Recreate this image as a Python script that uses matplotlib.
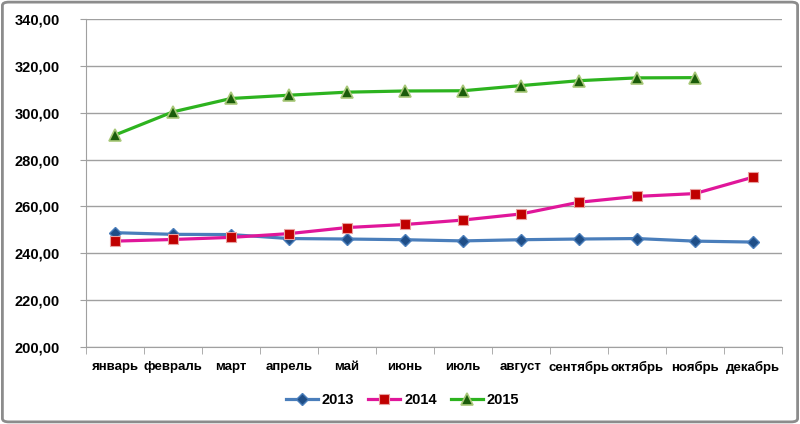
import matplotlib.pyplot as plt
from matplotlib.patches import FancyBboxPatch
from matplotlib.ticker import FuncFormatter, MultipleLocator

months = ["январь", "февраль", "март", "апрель", "май", "июнь",
          "июль", "август", "сентябрь", "октябрь", "ноябрь", "декабрь"]
y2013 = [248.8, 248.1, 248.0, 246.3, 246.1, 245.8, 245.3, 245.8, 246.1, 246.3, 245.2, 244.8]
y2014 = [245.2, 245.9, 246.8, 248.4, 251.0, 252.3, 254.2, 256.8, 261.8, 264.3, 265.5, 272.5]
y2015 = [290.5, 300.4, 306.1, 307.5, 308.8, 309.3, 309.4, 311.6, 313.7, 314.9, 315.0]

plt.rcParams['font.family'] = ['Liberation Sans', 'DejaVu Sans']

fig = plt.figure(figsize=(8, 4.24), dpi=100)
ax = fig.add_axes([0.1075, 0.1816, 0.87, 0.7734])

x13 = list(range(len(y2013)))
x14 = list(range(len(y2014)))
x15 = list(range(len(y2015)))

ax.plot(x13, y2013, color='#4A7EBB', lw=2.3, marker='D', ms=6.5,
        mfc='#1F4E87', mec='#4A7EBB', mew=1, label='2013', zorder=3)
ax.plot(x14, y2014, color='#E0169A', lw=2.3, marker='s', ms=6.5,
        mfc='#C00000', mec='#E8A0A0', mew=0.8, label='2014', zorder=4)
ax.plot(x15, y2015, color='#2DB31F', lw=2.3, marker='^', ms=8.5,
        mfc='#1A5C0A', mec='#A8C878', mew=1.2, label='2015', zorder=5)

ax.set_ylim(200, 340)
ax.set_xlim(-0.5, 11.5)
ax.yaxis.set_major_locator(MultipleLocator(20))
ax.yaxis.set_major_formatter(FuncFormatter(lambda v, p: f"{v:.2f}".replace('.', ',')))
ax.grid(axis='y', color='#A0A0A0', lw=1)
ax.set_axisbelow(True)

ax.set_xticks(range(12))
ax.set_xticklabels(months)
ax.set_xticks([i - 0.5 for i in range(13)], minor=True)
ax.tick_params(axis='x', which='major', length=0, pad=10)
ax.tick_params(axis='x', which='minor', length=5, color='#A0A0A0')
ax.tick_params(axis='y', length=4, color='#A0A0A0', pad=15)
for lab in ax.get_xticklabels() + ax.get_yticklabels():
    lab.set_fontweight('bold')
ax.tick_params(axis='x', labelsize=9.5)
ax.tick_params(axis='y', labelsize=10.5)

# top gridline is lighter in the original
ax.get_ygridlines()[-1].set_color('#D4D4D4')

for s in ['top', 'right']:
    ax.spines[s].set_visible(False)
for s in ['left', 'bottom']:
    ax.spines[s].set_color('#A0A0A0')

leg = ax.legend(loc='center', bbox_to_anchor=(402.5 / 800, 24 / 424), bbox_transform=fig.transFigure,
                ncol=3, frameon=False, prop={'weight': 'bold', 'size': 10.5},
                handlelength=2.2, columnspacing=1.0, handletextpad=0.25)

border = FancyBboxPatch((0.003, 0.005), 0.994, 0.99, boxstyle='round,pad=0,rounding_size=0.008',
                        transform=fig.transFigure, fill=False, ec='#8C8C8C', lw=2)
fig.patches.append(border)

fig.savefig('out.png', dpi=100)
